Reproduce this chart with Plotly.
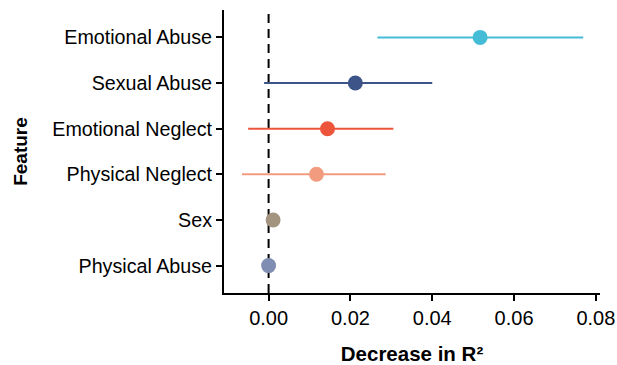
import plotly.graph_objects as go

features = ["Physical Abuse", "Sex", "Physical Neglect", "Emotional Neglect", "Sexual Abuse", "Emotional Abuse"]
importance = [0.0000, 0.0011, 0.0117, 0.0144, 0.0212, 0.0517]
ci_low = [0.0000, 0.0009, -0.0065, -0.0050, -0.0011, 0.0266]
ci_high = [0.0000, 0.0013, 0.0286, 0.0305, 0.0400, 0.0769]
colors = ["#7F8DB2", "#A39480", "#F39B7F", "#EC553B", "#3C5488", "#45BCD6"]
x_ticks = [0.00, 0.02, 0.04, 0.06, 0.08]

FONT = "Liberation Sans, Arial, sans-serif"

fig = go.Figure()
for i, f in enumerate(features):
    fig.add_trace(go.Scatter(
        x=[importance[i]], y=[f], mode="markers",
        marker=dict(color=colors[i], size=15, line=dict(width=0)),
        error_x=dict(type="data", symmetric=False,
                     array=[ci_high[i] - importance[i]],
                     arrayminus=[importance[i] - ci_low[i]],
                     color=colors[i], thickness=2, width=0),
        showlegend=False, hoverinfo="x+y",
    ))

fig.add_shape(type="line", xref="x", yref="paper", x0=0, x1=0, y0=0, y1=1,
              line=dict(color="black", width=2, dash="9px,6px"), layer="below")

fig.update_layout(
    width=617, height=365,
    margin=dict(l=224, r=17, t=10, b=72),
    plot_bgcolor="white", paper_bgcolor="white",
    font=dict(family=FONT, size=20, color="black"),
    xaxis=dict(
        range=[-0.0109, 0.081], tickvals=x_ticks,
        ticktext=[f"{v:.2f}" for v in x_ticks],
        showgrid=False, zeroline=False, showline=True, linecolor="black", linewidth=2,
        ticks="outside", ticklen=6, tickwidth=1.5, tickcolor="black",
        tickfont=dict(size=20, color="black", family=FONT),
        title=dict(text="<b>Decrease in R²</b>", font=dict(size=20.5, family=FONT), standoff=25),
        automargin=False,
    ),
    yaxis=dict(
        categoryorder="array", categoryarray=features,
        range=[-0.6, 5.6],
        showgrid=False, zeroline=False, showline=True, linecolor="black", linewidth=2,
        ticks="outside", ticklen=6, tickwidth=1.5, tickcolor="black",
        tickfont=dict(size=19.7, color="black", family=FONT),
        title=dict(text="<b>Feature</b>", font=dict(size=19, family=FONT), standoff=20),
        automargin=False,
    ),
)

fig.write_html("out.html", config={"displayModeBar": False},
               post_script="document.body.style.margin='0';document.body.style.overflow='hidden';")
